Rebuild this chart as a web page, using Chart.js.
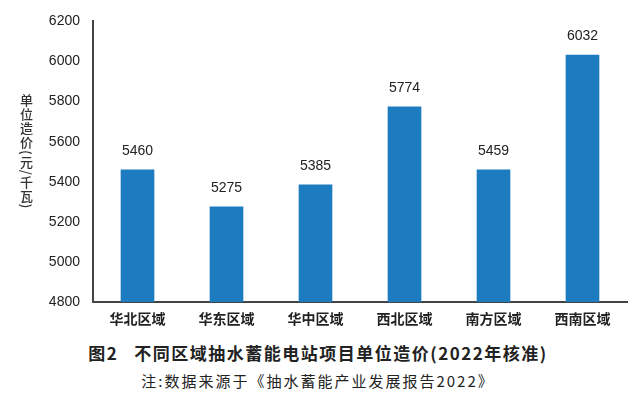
<!DOCTYPE html>
<html>
<head>
<meta charset="utf-8">
<script src="https://cdn.jsdelivr.net/npm/chart.js@4"></script>
<style>
  body { margin: 0; background: #fff; width: 644px; height: 393px; overflow: hidden; position: relative; }
  #wrap { position: absolute; left: 0; top: 0; width: 644px; height: 340px; }
  #ytitle {
    position: absolute; left: 17px; top: 94px;
    writing-mode: vertical-rl; font: 500 13px "Noto Sans CJK SC"; color: #333; letter-spacing: 1px;
  }
  #caption {
    position: absolute; left: 0; width: 636px; top: 340px; text-align: center;
    font: bold 17px "Noto Sans CJK SC"; color: #222; letter-spacing: 1.5px;
  }
  #note {
    position: absolute; left: 0; width: 636px; top: 370px; text-align: center;
    font: 15px "Noto Sans CJK SC"; color: #222; letter-spacing: 2px;
  }
</style>
</head>
<body>
<div id="wrap"><canvas id="myChart"></canvas></div>
<div id="ytitle">单位造价(元/千瓦)</div>
<div id="caption">图2&nbsp;&nbsp;&nbsp;不同区域抽水蓄能电站项目单位造价(2022年核准)</div>
<div id="note">注:数据来源于《抽水蓄能产业发展报告2022》</div>
<script>
const regions = ['华北区域', '华东区域', '华中区域', '西北区域', '南方区域', '西南区域'];
const unitCost = [5460, 5275, 5385, 5774, 5459, 6032];
const yTicks = [4800, 5000, 5200, 5400, 5600, 5800, 6000, 6200];

// value labels above each bar
const valueLabels = {
  id: 'valueLabels',
  afterDatasetsDraw(chart) {
    const ctx = chart.ctx;
    const meta = chart.getDatasetMeta(0);
    ctx.save();
    ctx.font = '14px "Liberation Sans"';
    ctx.fillStyle = '#222';
    ctx.textAlign = 'center';
    ctx.textBaseline = 'middle';
    meta.data.forEach((bar, i) => {
      ctx.fillText(String(unitCost[i]), bar.x, bar.y - 19);
    });
    ctx.restore();
  }
};

const ctx = document.getElementById('myChart').getContext('2d');
const myChart = new Chart(ctx, {
  type: 'bar',
  data: {
    labels: regions,
    datasets: [{
      data: unitCost,
      backgroundColor: '#1d7cc0',
      barThickness: 33,
    }],
  },
  options: {
    responsive: true,
    maintainAspectRatio: false,
    animation: false,
    layout: { padding: { top: 17, right: 17, left: 0, bottom: 0 } },
    plugins: { legend: { display: false }, tooltip: { enabled: false } },
    scales: {
      x: {
        grid: { display: false, drawTicks: false },
        border: { color: '#444', width: 2 },
        ticks: { color: '#222', font: { family: 'Noto Sans CJK SC', size: 14, weight: 'bold' }, padding: 8 },
        afterFit(scale) { scale.height = 38; },
      },
      y: {
        min: 4800,
        max: 6200,
        afterBuildTicks(scale) { scale.ticks = yTicks.map(v => ({ value: v })); },
        grid: { display: false, drawTicks: false },
        border: { color: '#444', width: 2 },
        ticks: {
          color: '#222',
          font: { family: 'Liberation Sans', size: 14 },
          padding: 13,
          callback: (v) => String(v),
        },
        afterFit(scale) { scale.width = 93; },
      },
    },
  },
  plugins: [valueLabels],
});
</script>
</body>
</html>
